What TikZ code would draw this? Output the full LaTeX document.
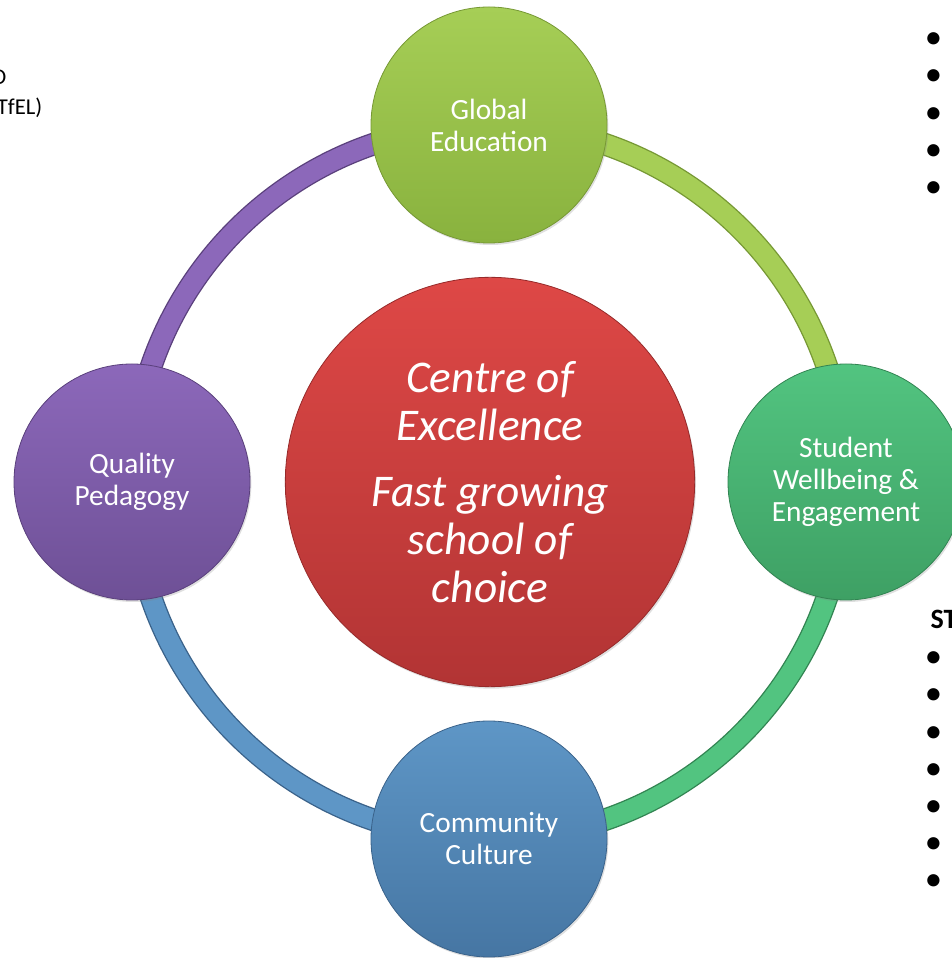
\documentclass[tikz,border=0pt]{standalone}
\usepackage{fontspec}
\setmainfont{Carlito}
\usetikzlibrary{shadows,backgrounds}

\definecolor{globaltop}{RGB}{166,206,86}
\definecolor{globalbot}{RGB}{137,178,62}
\definecolor{globalrim}{RGB}{118,152,52}
\definecolor{studenttop}{RGB}{82,196,128}
\definecolor{studentbot}{RGB}{62,160,100}
\definecolor{studentrim}{RGB}{50,132,82}
\definecolor{communitytop}{RGB}{94,150,198}
\definecolor{communitybot}{RGB}{70,118,163}
\definecolor{communityrim}{RGB}{58,98,138}
\definecolor{qualitytop}{RGB}{140,104,186}
\definecolor{qualitybot}{RGB}{110,80,150}
\definecolor{qualityrim}{RGB}{90,64,124}
\definecolor{centretop}{RGB}{222,72,70}
\definecolor{centrebot}{RGB}{178,52,52}
\definecolor{centrerim}{RGB}{150,42,42}

\begin{document}
\begin{tikzpicture}[x=0.75pt, y=0.75pt,
    bubble/.style={circle, minimum size=177pt, inner sep=0pt, align=center, text=white, line width=0.6pt,
        font=\fontsize{22}{24}\selectfont,
        drop shadow={opacity=0.25, shadow xshift=1pt, shadow yshift=-1.5pt}},
    ringarc/.style={line width=1pt, double distance=15pt},
    listdot/.style={font=\fontsize{26}{28}\selectfont, inner sep=0pt}]
    \useasboundingbox (0,0) rectangle (951,958);

    \node[bubble, top color=globaltop, bottom color=globalbot, draw=globalrim] (global) at (489,833) {Global\\Education};
    \node[bubble, top color=studenttop, bottom color=studentbot, draw=studentrim] (student) at (846,476) {Student\\Wellbeing \&\\Engagement};
    \node[bubble, top color=communitytop, bottom color=communitybot, draw=communityrim] (community) at (489,119) {Community\\Culture};
    \node[bubble, top color=qualitytop, bottom color=qualitybot, draw=qualityrim] (quality) at (132,476) {Quality\\Pedagogy};

    \node[bubble, minimum size=307pt, top color=centretop, bottom color=centrebot, draw=centrerim,
        font=\fontsize{34}{36}\selectfont\itshape] (centre) at (490,476)
        {Centre of\\Excellence\\[14pt]Fast growing\\school of\\choice};

    \begin{pgfonlayer}{background}
        \draw[ringarc, draw=globalrim, double=globaltop] (global.center) arc[start angle=90, end angle=0, radius=357];
        \draw[ringarc, draw=studentrim, double=studenttop] (student.center) arc[start angle=0, end angle=-90, radius=357];
        \draw[ringarc, draw=communityrim, double=communitytop] (community.center) arc[start angle=-90, end angle=-180, radius=357];
        \draw[ringarc, draw=qualityrim, double=qualitytop] (quality.center) arc[start angle=180, end angle=90, radius=357];
    \end{pgfonlayer}

    \node[anchor=base east, font=\fontsize{17}{20}\selectfont] (tfel1) at (11,873) {D};
    \node[anchor=base east, font=\fontsize{17}{20}\selectfont] (tfel2) at (47,843) {TfEL)};

    \node[anchor=base west, font=\fontsize{21}{24}\selectfont\bfseries] (st) at (926,329) {ST};

    \node[listdot] (dot1) at (933.5,917) {\textbullet};
    \node[listdot] (dot2) at (933.5,880) {\textbullet};
    \node[listdot] (dot3) at (933.5,842) {\textbullet};
    \node[listdot] (dot4) at (933.5,805) {\textbullet};
    \node[listdot] (dot5) at (933.5,768) {\textbullet};

    \node[listdot] (dot6) at (933.5,298) {\textbullet};
    \node[listdot] (dot7) at (933.5,261) {\textbullet};
    \node[listdot] (dot8) at (933.5,223) {\textbullet};
    \node[listdot] (dot9) at (933.5,186) {\textbullet};
    \node[listdot] (dot10) at (933.5,149) {\textbullet};
    \node[listdot] (dot11) at (933.5,112) {\textbullet};
    \node[listdot] (dot12) at (933.5,75) {\textbullet};
\end{tikzpicture}
\end{document}
